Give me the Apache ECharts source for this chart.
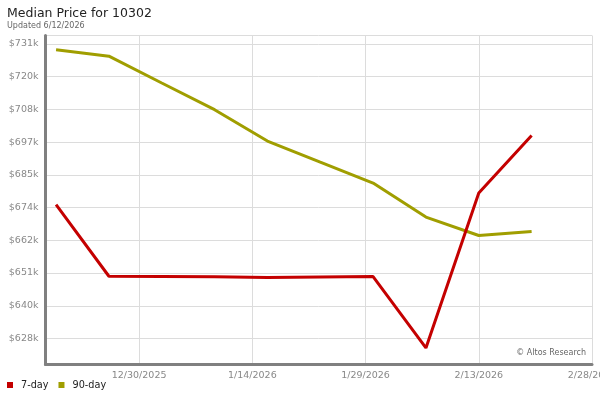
<!DOCTYPE html>
<html>
<head>
<meta charset="utf-8">
<script src="https://cdn.jsdelivr.net/npm/echarts@6/dist/echarts.min.js"></script>
<style>
html,body{margin:0;padding:0;background:#fff;}
#chart{width:600px;height:400px;}
</style>
</head>
<body>
<div id="chart"></div>
<script>
// ---- data ----
const dates = ["2025-12-19","2025-12-26","2026-01-02","2026-01-09","2026-01-16","2026-01-23","2026-01-30","2026-02-06","2026-02-13","2026-02-20"];
const sevenDay = [674900, 649900, 649800, 649700, 649450, 649650, 649800, 624900, 678900, 699000];
const ninetyDay = [728900, 726650, 717300, 708000, 697050, 689700, 682400, 670550, 664100, 665500];
const xTickDates = ["2025-12-30","2026-01-14","2026-01-29","2026-02-13","2026-02-28"];
const yTicks = [628180, 639600, 651030, 662450, 673870, 685290, 696710, 708130, 719550, 730980];
const seriesNames = ["7-day","90-day"];
const title = "Median Price for 10302";
const subtitle = "Updated 6/12/2026";
const credit = "\u00a9 Altos Research";

// ---- helpers ----
const DAY = 86400000;
function utc(s){const p=s.split("-").map(Number);return Date.UTC(p[0],p[1]-1,p[2]);}
const base = utc(xTickDates[0]);
const dayOf = s => (utc(s)-base)/DAY;
const xTicks = xTickDates.map(dayOf);
function fmtDate(v){const d=new Date(base+Math.round(v)*DAY);return (d.getUTCMonth()+1)+"/"+d.getUTCDate()+"/"+d.getUTCFullYear();}
const pts = arr => dates.map((d,i)=>[dayOf(d),arr[i]]);

const X_MIN = -12.4, X_MAX = xTicks[xTicks.length-1];
const Y_MIN = 619123, Y_MAX = 733866;

const FONT = "DejaVu Sans";
const chart = echarts.init(document.getElementById("chart"), null, {renderer:"canvas"});
chart.setOption({
  animation:false,
  backgroundColor:"#fff",
  title:{
    text:title, subtext:subtitle, left:7, top:7, padding:0, itemGap:2,
    textStyle:{fontFamily:FONT,fontSize:12.5,fontWeight:"normal",color:"#222"},
    subtextStyle:{fontFamily:FONT,fontSize:8,color:"#666"}
  },
  legend:{
    data:seriesNames, left:7, top:380, padding:0, itemGap:10,
    itemWidth:6, itemHeight:6, icon:"rect",
    textStyle:{fontFamily:FONT,fontSize:9.7,color:"#222",padding:[0,0,0,3]}
  },
  grid:{left:45.5,right:8,top:35.5,bottom:35.5,containLabel:false,outerBoundsMode:"none"},
  xAxis:{
    type:"value", min:X_MIN, max:X_MAX,
    axisLine:{show:true,onZero:false,lineStyle:{color:"#808080",width:3}},
    axisTick:{show:false,customValues:xTicks},
    splitLine:{show:true,lineStyle:{color:"#dcdcdc",width:1}},
    axisLabel:{fontFamily:FONT,fontSize:9.5,color:"#888",margin:6,customValues:xTicks,
      formatter:v=>fmtDate(v)}
  },
  yAxis:{
    type:"value", min:Y_MIN, max:Y_MAX,
    axisLine:{show:true,onZero:false,lineStyle:{color:"#808080",width:3}},
    axisTick:{show:false,customValues:yTicks.concat([Y_MAX])},
    splitLine:{show:true,lineStyle:{color:"#dcdcdc",width:1}},
    axisLabel:{fontFamily:FONT,fontSize:9.5,color:"#888",margin:7,customValues:yTicks,
      formatter:v=>"$"+Math.round(v/1000)+"k"}
  },
  graphic:[{type:"text",right:14,top:349,style:{text:credit,fontFamily:FONT,fontSize:8,fill:"#666"},z:10}],
  series:[
    {name:seriesNames[0],type:"line",data:pts(sevenDay),symbol:"none",z:3,
     color:"#c40000",lineStyle:{width:3,color:"#c40000"}},
    {name:seriesNames[1],type:"line",data:pts(ninetyDay),symbol:"none",z:2,
     color:"#a09e00",lineStyle:{width:3,color:"#a09e00"}}
  ]
});
</script>
</body>
</html>
